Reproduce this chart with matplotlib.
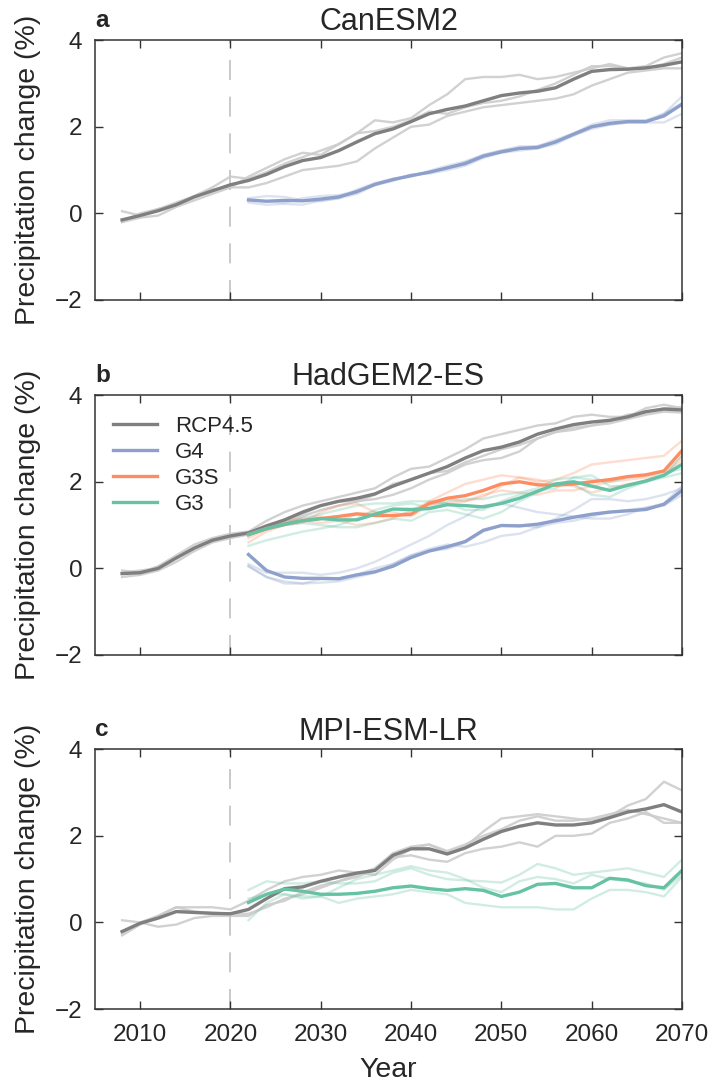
import numpy as np
import matplotlib.pyplot as plt

plt.rcParams['font.family'] = ['Liberation Sans', 'DejaVu Sans']
plt.rcParams['text.color'] = '#262626'
plt.rcParams['axes.labelcolor'] = '#262626'
plt.rcParams['xtick.color'] = '#262626'
plt.rcParams['ytick.color'] = '#262626'

# years (2-yearly samples)
yrs_rcp = np.arange(2008, 2071, 2)
yrs_geo = np.arange(2022, 2071, 2)

# ---- a: CanESM2 ----
can_rcp = [-0.15, -0.05, 0.06, 0.2, 0.38, 0.52, 0.66, 0.76, 0.9, 1.08, 1.22, 1.29, 1.45, 1.65, 1.84, 1.95,
           2.12, 2.3, 2.4, 2.48, 2.6, 2.72, 2.78, 2.82, 2.9, 3.1, 3.28, 3.32, 3.33, 3.36, 3.42, 3.5]
can_rcp_m1 = [0.05, -0.05, 0.1, 0.2, 0.4, 0.6, 0.85, 0.8, 0.95, 1.15, 1.3, 1.45, 1.6, 1.85, 2.15, 2.1,
              2.2, 2.5, 2.75, 3.1, 3.15, 3.15, 3.2, 3.1, 3.15, 3.25, 3.35, 3.45, 3.35, 3.4, 3.6, 3.7]
can_rcp_m2 = [-0.2, -0.1, -0.05, 0.15, 0.3, 0.45, 0.6, 0.6, 0.7, 0.85, 1.0, 1.05, 1.1, 1.2, 1.5, 1.75,
              2.0, 2.05, 2.25, 2.35, 2.45, 2.5, 2.55, 2.6, 2.65, 2.75, 2.95, 3.1, 3.25, 3.3, 3.35, 3.35]
can_rcp_m3 = [-0.2, 0.0, 0.1, 0.25, 0.4, 0.55, 0.6, 0.85, 1.05, 1.25, 1.4, 1.35, 1.6, 1.85, 1.9, 2.0,
              2.15, 2.35, 2.3, 2.45, 2.55, 2.6, 2.7, 2.85, 3.0, 3.2, 3.4, 3.4, 3.35, 3.35, 3.45, 3.6]
can_g4 = [0.31, 0.28, 0.3, 0.29, 0.33, 0.38, 0.5, 0.67, 0.78, 0.87, 0.95, 1.05, 1.15, 1.32, 1.42, 1.5,
          1.52, 1.65, 1.83, 2.0, 2.08, 2.12, 2.12, 2.25, 2.52]
can_g4_m1 = [0.35, 0.4, 0.38, 0.3, 0.28, 0.35, 0.55, 0.7, 0.8, 0.85, 0.98, 1.1, 1.2, 1.35, 1.45, 1.5,
             1.55, 1.7, 1.85, 2.05, 2.15, 2.15, 2.15, 2.3, 2.7]
can_g4_m2 = [0.25, 0.2, 0.22, 0.2, 0.3, 0.35, 0.45, 0.65, 0.75, 0.9, 0.92, 1.0, 1.1, 1.28, 1.4, 1.45,
             1.5, 1.6, 1.8, 2.0, 2.05, 2.1, 2.1, 2.1, 2.3]
can_g4_m3 = [0.3, 0.28, 0.25, 0.35, 0.4, 0.42, 0.52, 0.65, 0.8, 0.88, 0.95, 1.05, 1.18, 1.35, 1.45, 1.55,
             1.55, 1.65, 1.8, 1.95, 2.05, 2.1, 2.1, 2.3, 2.55]

# ---- b: HadGEM2-ES ----
had_rcp = [-0.12, -0.1, 0.0, 0.24, 0.47, 0.65, 0.75, 0.82, 0.98, 1.12, 1.3, 1.45, 1.55, 1.62, 1.72, 1.9,
           2.05, 2.2, 2.35, 2.55, 2.72, 2.8, 2.92, 3.1, 3.22, 3.32, 3.38, 3.42, 3.5, 3.62, 3.68, 3.66]
had_rcp_m1 = [-0.05, -0.1, 0.05, 0.3, 0.55, 0.7, 0.8, 0.85, 1.1, 1.3, 1.45, 1.55, 1.65, 1.75, 1.85, 2.1,
              2.3, 2.35, 2.55, 2.75, 3.0, 3.1, 3.2, 3.3, 3.35, 3.5, 3.55, 3.5, 3.5, 3.7, 3.78, 3.7]
had_rcp_m2 = [-0.2, -0.15, -0.05, 0.15, 0.4, 0.6, 0.7, 0.78, 0.9, 1.0, 1.2, 1.35, 1.45, 1.55, 1.6, 1.7,
              1.85, 2.05, 2.2, 2.4, 2.5, 2.55, 2.7, 3.0, 3.15, 3.2, 3.3, 3.35, 3.45, 3.55, 3.62, 3.6]
had_rcp_m3 = [-0.1, -0.05, 0.0, 0.25, 0.45, 0.65, 0.72, 0.8, 0.95, 1.05, 1.25, 1.45, 1.55, 1.55, 1.7, 1.95,
              2.05, 2.2, 2.25, 2.45, 2.6, 2.75, 2.85, 3.0, 3.15, 3.25, 3.3, 3.4, 3.55, 3.6, 3.7, 3.72]
had_g4 = [0.32, -0.05, -0.2, -0.23, -0.23, -0.24, -0.15, -0.08, 0.05, 0.25, 0.4, 0.5, 0.62, 0.88, 0.99,
          0.98, 1.02, 1.1, 1.18, 1.25, 1.3, 1.33, 1.36, 1.48, 1.8]
had_g4_m1 = [0.1, -0.1, -0.1, -0.1, -0.15, -0.1, 0.0, 0.15, 0.35, 0.55, 0.75, 1.0, 1.2, 1.45, 1.5, 1.4,
             1.3, 1.25, 1.2, 1.15, 1.15, 1.25, 1.4, 1.5, 1.9]
had_g4_m2 = [0.05, -0.2, -0.35, -0.35, -0.33, -0.3, -0.2, -0.1, 0.1, 0.3, 0.45, 0.55, 0.5, 0.6, 0.75, 0.8,
             0.95, 1.15, 1.35, 1.6, 1.6, 1.55, 1.6, 1.7, 1.85]
had_g4_m3 = [0.05, -0.2, -0.3, -0.35, -0.25, -0.25, -0.15, 0.0, 0.1, 0.3, 0.4, 0.45, 0.6, 0.85, 1.0, 1.0,
             0.95, 1.05, 1.1, 1.2, 1.3, 1.35, 1.4, 1.45, 1.7]
had_g3s = [0.78, 0.92, 1.02, 1.1, 1.15, 1.2, 1.26, 1.22, 1.22, 1.25, 1.5, 1.62, 1.68, 1.8, 1.95, 2.0,
           1.93, 1.92, 1.95, 2.0, 2.05, 2.12, 2.16, 2.25, 2.72]
had_g3s_m1 = [0.7, 0.9, 1.0, 1.05, 1.3, 1.45, 1.5, 1.3, 1.2, 1.3, 1.55, 1.75, 1.95, 2.05, 2.15, 2.1,
              2.0, 2.05, 2.2, 2.4, 2.45, 2.5, 2.55, 2.6, 2.95]
had_g3s_m2 = [0.6, 0.85, 1.0, 1.1, 1.05, 1.1, 1.0, 1.05, 1.15, 1.35, 1.5, 1.5, 1.55, 1.7, 1.8, 1.75,
              1.7, 1.8, 1.8, 1.9, 2.0, 2.05, 2.1, 2.15, 2.5]
had_g3s_m3 = [0.8, 1.0, 1.1, 1.15, 1.2, 1.1, 1.25, 1.3, 1.3, 1.2, 1.45, 1.6, 1.55, 1.65, 1.9, 2.1,
              2.05, 1.95, 1.9, 1.75, 1.85, 1.95, 2.0, 2.15, 2.6]
had_g3 = [0.78, 0.92, 1.02, 1.1, 1.15, 1.12, 1.12, 1.25, 1.37, 1.36, 1.38, 1.47, 1.45, 1.42, 1.5, 1.62,
          1.78, 1.95, 2.0, 1.9, 1.8, 1.92, 2.02, 2.15, 2.4]
had_g3_m1 = [0.52, 0.65, 0.75, 0.85, 0.92, 1.0, 1.15, 1.35, 1.45, 1.5, 1.4, 1.55, 1.6, 1.6, 1.7, 1.75,
             1.85, 2.05, 2.1, 2.05, 2.0, 2.1, 2.15, 2.2, 2.3]
had_g3_m2 = [0.75, 0.95, 1.05, 1.15, 1.25, 1.35, 1.45, 1.5, 1.5, 1.55, 1.55, 1.5, 1.35, 1.35, 1.55, 1.7,
             1.8, 1.85, 2.1, 2.15, 1.9, 1.9, 2.0, 2.1, 2.2]
had_g3_m3 = [0.8, 0.95, 1.0, 1.05, 1.0, 0.95, 0.95, 1.05, 1.15, 1.1, 1.3, 1.35, 1.25, 1.15, 1.3, 1.55,
             1.75, 1.95, 1.95, 1.7, 1.65, 1.85, 2.0, 2.15, 2.6]

# ---- c: MPI-ESM-LR ----
mpi_rcp = [-0.21, -0.02, 0.1, 0.25, 0.23, 0.21, 0.2, 0.3, 0.55, 0.78, 0.82, 0.95, 1.05, 1.14, 1.2, 1.55,
           1.7, 1.7, 1.58, 1.72, 1.92, 2.1, 2.22, 2.3, 2.25, 2.25, 2.3, 2.42, 2.55, 2.62, 2.72, 2.55]
mpi_rcp_m1 = [0.05, 0.0, 0.15, 0.35, 0.35, 0.35, 0.3, 0.5, 0.75, 0.95, 1.05, 1.1, 1.2, 1.15, 1.1, 1.45,
              1.7, 1.8, 1.6, 1.75, 2.1, 2.4, 2.45, 2.5, 2.45, 2.4, 2.35, 2.45, 2.7, 2.85, 3.25, 3.05]
mpi_rcp_m2 = [-0.3, -0.05, 0.15, 0.35, 0.25, 0.22, 0.2, 0.2, 0.35, 0.55, 0.65, 0.8, 0.95, 1.1, 1.25, 1.6,
              1.75, 1.8, 1.65, 1.8, 2.0, 2.15, 2.35, 2.45, 2.35, 2.35, 2.4, 2.5, 2.6, 2.5, 2.4, 2.3]
mpi_rcp_m3 = [-0.25, 0.0, -0.1, -0.05, 0.1, 0.15, 0.15, 0.15, 0.4, 0.5, 0.7, 0.85, 0.95, 1.05, 1.2, 1.5,
              1.55, 1.45, 1.4, 1.6, 1.7, 1.75, 1.85, 1.75, 2.0, 2.0, 2.05, 2.3, 2.4, 2.55, 2.3, 2.3]
mpi_g3 = [0.46, 0.65, 0.77, 0.72, 0.65, 0.65, 0.67, 0.72, 0.8, 0.84, 0.78, 0.74, 0.78, 0.74, 0.6, 0.7,
          0.88, 0.9, 0.8, 0.8, 1.02, 0.98, 0.85, 0.8, 1.2]
mpi_g3_m1 = [0.75, 0.95, 0.9, 0.9, 0.95, 0.9, 0.9, 0.95, 1.15, 1.25, 1.1, 1.0, 0.97, 0.95, 0.92, 1.1,
             1.35, 1.25, 1.1, 1.15, 1.2, 1.25, 1.15, 1.05, 1.45]
mpi_g3_m2 = [0.05, 0.45, 0.65, 0.6, 0.6, 0.8, 1.0, 1.1, 1.2, 1.3, 1.2, 1.15, 1.0, 0.8, 0.7, 0.95,
             1.05, 1.0, 0.9, 1.1, 1.0, 0.95, 0.9, 0.75, 1.1]
mpi_g3_m3 = [0.55, 0.65, 0.65, 0.55, 0.6, 0.45, 0.55, 0.6, 0.65, 0.75, 0.7, 0.65, 0.45, 0.4, 0.35, 0.35,
             0.35, 0.3, 0.3, 0.55, 0.75, 0.75, 0.7, 0.6, 1.05]

c_rcp = '#7f7f7f'
c_g4 = '#8da0cb'
c_g3s = '#fc8d62'
c_g3 = '#66c2a5'

panels = [
    ('a', 'CanESM2', [('RCP4.5', c_rcp, yrs_rcp, can_rcp, [can_rcp_m1, can_rcp_m2, can_rcp_m3]),
                      ('G4', c_g4, yrs_geo, can_g4, [can_g4_m1, can_g4_m2, can_g4_m3])]),
    ('b', 'HadGEM2-ES', [('RCP4.5', c_rcp, yrs_rcp, had_rcp, [had_rcp_m1, had_rcp_m2, had_rcp_m3]),
                         ('G4', c_g4, yrs_geo, had_g4, [had_g4_m1, had_g4_m2, had_g4_m3]),
                         ('G3S', c_g3s, yrs_geo, had_g3s, [had_g3s_m1, had_g3s_m2, had_g3s_m3]),
                         ('G3', c_g3, yrs_geo, had_g3, [had_g3_m1, had_g3_m2, had_g3_m3])]),
    ('c', 'MPI-ESM-LR', [('RCP4.5', c_rcp, yrs_rcp, mpi_rcp, [mpi_rcp_m1, mpi_rcp_m2, mpi_rcp_m3]),
                         ('G3', c_g3, yrs_geo, mpi_g3, [mpi_g3_m1, mpi_g3_m2, mpi_g3_m3])]),
]

fig = plt.figure(figsize=(7.13, 10.86), dpi=100)
bottoms = [0.7238, 0.3969, 0.0709]

for (letter, title, series), b in zip(panels, bottoms):
    ax = fig.add_axes([0.1332, b, 0.8233, 0.2392])
    ax.axvline(2020, color='#c0c0c0', lw=1.2, dashes=(12, 10), zorder=0)
    # ensemble members first
    for name, col, yrs, mean, members in series:
        lc = '#cccccc' if name == 'RCP4.5' else col
        a = 0.9 if name == 'RCP4.5' else 0.3
        for m in members:
            ax.plot(yrs, m, color=lc, alpha=a, lw=1.7, zorder=1)
    for name, col, yrs, mean, members in series:
        ax.plot(yrs, mean, color=col, lw=2.4, label=name, zorder=2)

    ax.set_xlim(2005, 2070)
    ax.set_ylim(-2, 4)
    ax.set_xticks(range(2010, 2071, 10))
    ax.set_yticks([-2, 0, 2, 4])
    ax.tick_params(direction='in', top=True, right=True, length=6, width=1,
                   labelsize=17.5, color='#333333')
    ax.tick_params(axis='x', pad=11)
    ax.tick_params(axis='y', pad=9)
    for s in ax.spines.values():
        s.set_color('#333333')
        s.set_linewidth(1.1)
    ax.set_ylabel('Precipitation change (%)', fontsize=20.5, labelpad=10)
    ax.set_title(title, fontsize=22, pad=7)
    ax.text(0, 1.03, letter, transform=ax.transAxes, fontsize=17.5, fontweight='bold',
            ha='left', va='bottom')
    if letter == 'b':
        ax.legend(loc='upper left', bbox_to_anchor=(0.03, 0.92), frameon=False, fontsize=16,
                  handlelength=2.0, handletextpad=0.8, labelspacing=0.22, borderaxespad=0,
                  borderpad=0)
    if letter != 'c':
        ax.set_xticklabels([])
    else:
        ax.set_xlabel('Year', fontsize=20.5, labelpad=8)

fig.savefig('out.png', dpi=100)
